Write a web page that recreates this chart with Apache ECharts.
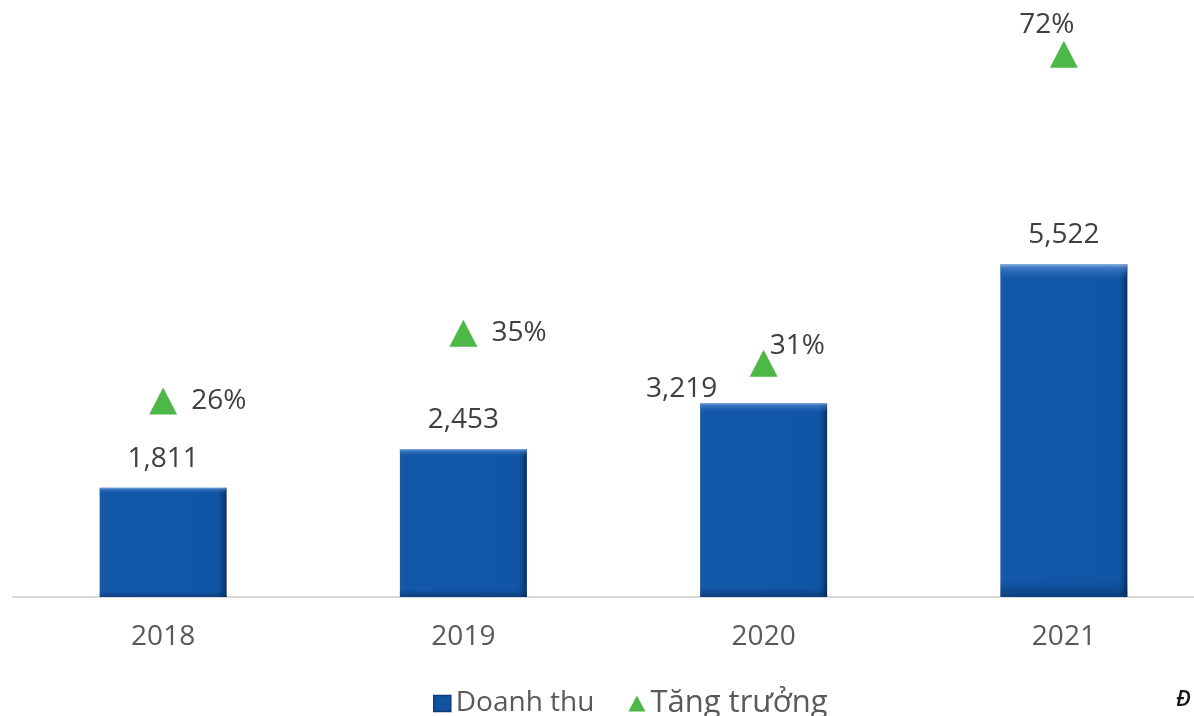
<!DOCTYPE html>
<html>
<head>
<meta charset="utf-8">
<script src="https://cdn.jsdelivr.net/npm/echarts@6/dist/echarts.min.js"></script>
<style>
html,body{margin:0;padding:0;background:#fff;overflow:hidden;width:1194px;height:716px;position:relative;}
#main{position:absolute;left:0;top:-6px;width:1214px;height:722px;}
</style>
</head>
<body>
<div id="main"></div>
<script>
var categories = ['2018', '2019', '2020', '2021'];
var revenue = [1811, 2453, 3219, 5522];
var growth = [26, 35, 31, 72];
var seriesNames = ['Doanh thu', 'Tăng trưởng'];

var FONT = '"Open Sans", "Noto Sans", sans-serif';

var chart = echarts.init(document.getElementById('main'));

var barLabelOverride = {2: {offset: [-82, 15]}};
var growthLabelOverride = {
  2: {position: 'right', offset: [-22, -17]},
  3: {position: 'top', distance: 2, offset: [-17, 0]}
};

var barData = revenue.map(function (v, i) {
  var d = {value: v};
  if (barLabelOverride[i]) d.label = barLabelOverride[i];
  return d;
});
var growthData = growth.map(function (v, i) {
  var d = {value: v};
  if (growthLabelOverride[i]) d.label = growthLabelOverride[i];
  return d;
});

var option = {
  animation: false,
  backgroundColor: '#ffffff',
  textStyle: {fontFamily: FONT},
  grid: {left: 13, right: 0, top: 0, bottom: 119, containLabel: false},
  legend: {
    left: 428, top: 689,
    itemWidth: 17, itemHeight: 16, itemGap: 34,
    textStyle: {fontSize: 28, color: '#595959', fontFamily: FONT},
    data: [
      {name: seriesNames[0], icon: 'rect', itemStyle: {color: '#1253a0', borderColor: '#0b3a75', borderWidth: 1.5}},
      {name: seriesNames[1], icon: 'triangle', itemStyle: {color: '#4db848', opacity: 1},
        textStyle: {fontSize: 31, color: '#595959', fontFamily: FONT}}
    ]
  },
  graphic: [{
    type: 'text', left: 1176, top: 695,
    style: {text: 'Đ', font: 'italic 600 22px ' + FONT, fill: '#1a1a1a'}
  }],
  xAxis: {
    type: 'category',
    data: categories,
    axisLine: {lineStyle: {color: '#d9d9d9', width: 2}},
    axisTick: {show: false},
    axisLabel: {fontSize: 28, color: '#595959', margin: 26, fontFamily: FONT}
  },
  yAxis: [
    {type: 'value', min: 0, max: 10000, show: false, splitLine: {show: false}},
    {type: 'value', min: 0, max: 80, show: false, splitLine: {show: false}}
  ],
  series: [
    {
      name: seriesNames[0],
      type: 'bar',
      data: barData,
      barWidth: 127,
      itemStyle: {
        color: new echarts.graphic.LinearGradient(0, 0, 1, 0, [
          {offset: 0, color: '#1a5aa6'},
          {offset: 0.04, color: '#1257a8'},
          {offset: 0.93, color: '#1156a6'},
          {offset: 0.97, color: '#0c4689'},
          {offset: 1, color: '#082c57'}
        ])
      },
      label: {
        show: true, position: 'top', distance: 15,
        fontSize: 28, color: '#404040', fontFamily: FONT,
        formatter: function (p) { return p.value.toLocaleString('en-US'); }
      },
      z: 2
    },
    {
      name: 'bevel',
      type: 'bar',
      data: revenue,
      barWidth: 127,
      barGap: '-100%',
      silent: true,
      legendHoverLink: false,
      itemStyle: {
        color: new echarts.graphic.LinearGradient(0, 0, 0, 1, [
          {offset: 0, color: 'rgba(170,200,240,0.8)'},
          {offset: 0.012, color: 'rgba(90,140,210,0.6)'},
          {offset: 0.05, color: 'rgba(40,100,180,0)'},
          {offset: 0.95, color: 'rgba(10,40,90,0)'},
          {offset: 1, color: 'rgba(8,40,85,0.5)'}
        ])
      },
      z: 3
    },
    {
      name: seriesNames[1],
      type: 'scatter',
      yAxisIndex: 1,
      data: growthData,
      symbol: 'triangle',
      symbolSize: [28, 27],
      itemStyle: {color: '#4db848', opacity: 1},
      label: {
        show: true, position: 'right', distance: 14,
        fontSize: 28, color: '#404040', fontFamily: FONT,
        formatter: function (p) { return p.value + '%'; }
      },
      z: 4
    }
  ]
};
chart.setOption(option);
</script>
</body>
</html>
